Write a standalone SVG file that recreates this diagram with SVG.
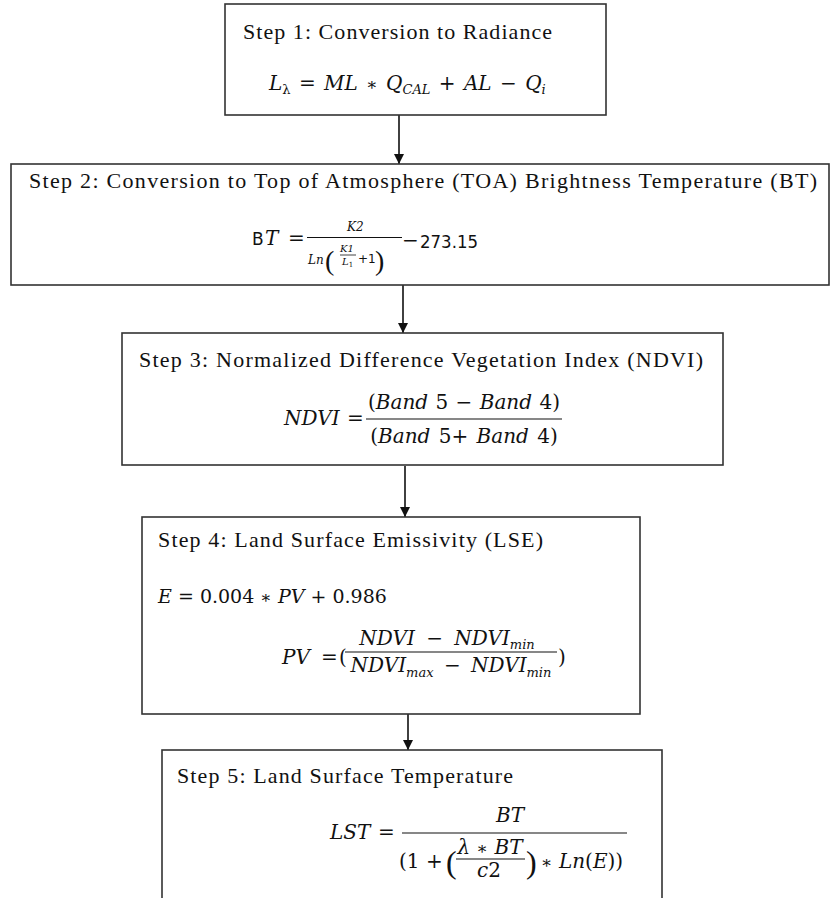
<svg xmlns="http://www.w3.org/2000/svg" width="830" height="898" viewBox="0 0 830 898">
<defs>
<marker id="ah" markerWidth="10" markerHeight="10" refX="10" refY="5" orient="auto" markerUnits="userSpaceOnUse" viewBox="0 0 10 10">
<path d="M0,0 L10,5 L0,10 Z" fill="#111"/>
</marker>
<style>
.box{fill:#fff;stroke:#333;stroke-width:1.6}
.t{font-family:"Liberation Serif","Times New Roman",serif;font-size:22px;fill:#111}
.m{font-family:"DejaVu Serif","Liberation Serif",serif;font-size:20px;fill:#111;font-style:italic}
.u{font-style:normal}
.sub{font-size:13px}
.ast{font-size:17px;font-style:normal}
.s{font-family:"DejaVu Sans","Liberation Sans",sans-serif;font-size:17px;fill:#111}
.c{stroke:#111;stroke-width:1.6;fill:none}
.bar{stroke:#111;stroke-width:1.2}
</style>
</defs>
<rect width="830" height="898" fill="#fff"/>
<g id="connectors">
<line class="c" x1="399" y1="115" x2="399" y2="164" marker-end="url(#ah)"/>
<line class="c" x1="403" y1="285" x2="403" y2="333" marker-end="url(#ah)"/>
<line class="c" x1="405" y1="466" x2="405" y2="517" marker-end="url(#ah)"/>
<line class="c" x1="408" y1="714" x2="408" y2="750" marker-end="url(#ah)"/>
</g>
<g id="step1">
<rect class="box" x="225" y="4" width="381" height="111"/>
<text class="t" x="243" y="39" textLength="309" lengthAdjust="spacing">Step 1: Conversion  to Radiance</text>
<text class="m" x="269" y="90" style="word-spacing:2px">L<tspan class="sub u" dy="4">λ</tspan><tspan class="u" dy="-4"> = </tspan>ML <tspan class="ast">∗</tspan> Q<tspan class="sub" dy="4">CAL</tspan><tspan class="u" dy="-4"> + </tspan>AL <tspan class="u">−</tspan> Q<tspan class="sub" dy="4">i</tspan></text>
</g>
<g id="step2">
<rect class="box" x="11" y="164" width="818" height="121"/>
<text class="t" x="29" y="188" textLength="788" lengthAdjust="spacing">Step 2: Conversion  to Top of Atmosphere  (TOA) Brightness  Temperature  (BT)</text>
<text class="s" x="252" y="245">B</text>
<text class="m" x="265" y="245">T</text>
<text class="m u" x="288" y="245">=</text>
<text class="m" x="347" y="231" style="font-size:12px">K2</text>
<line class="bar" x1="307" y1="237.5" x2="402" y2="237.5"/>
<text class="m" x="308" y="264" style="font-size:12px">Ln</text>
<text class="m u" x="325" y="270" style="font-size:28px;font-family:'Liberation Serif',serif">(</text>
<text class="m" x="340" y="252" style="font-size:10px">K1</text>
<line class="bar" x1="340" y1="255" x2="356" y2="255" style="stroke-width:0.8"/>
<text class="m" x="342" y="265" style="font-size:10px">L<tspan class="u" style="font-size:7px" dy="2">1</tspan></text>
<text class="s" x="358" y="263" style="font-size:12px">+1</text>
<text class="m u" x="375" y="270" style="font-size:28px;font-family:'Liberation Serif',serif">)</text>
<text class="m u" x="402" y="247">−</text>
<text class="s" x="420" y="248" textLength="58" lengthAdjust="spacingAndGlyphs">273.15</text>
</g>
<g id="step3">
<rect class="box" x="122" y="333" width="601" height="132"/>
<text class="t" x="139" y="367" textLength="564" lengthAdjust="spacing">Step 3: Normalized  Difference  Vegetation  Index (NDVI)</text>
<text class="m" x="284" y="425">NDVI</text>
<text class="m u" x="347" y="425">=</text>
<text class="m" x="464" y="409" text-anchor="middle" style="word-spacing:1px"><tspan class="u">(</tspan>Band <tspan class="u">5 − </tspan>Band <tspan class="u">4)</tspan></text>
<line class="bar" x1="366" y1="419" x2="562" y2="419"/>
<text class="m" x="464" y="443" text-anchor="middle" style="word-spacing:2px"><tspan class="u">(</tspan>Band <tspan class="u">5+  </tspan>Band <tspan class="u">4)</tspan></text>
</g>
<g id="step4">
<rect class="box" x="142" y="517" width="498" height="197"/>
<text class="t" x="158" y="547" textLength="385" lengthAdjust="spacing">Step 4: Land Surface  Emissivity  (LSE)</text>
<text class="m" x="158" y="603" style="font-size:19px">E <tspan class="u">= 0.004 </tspan><tspan class="ast">∗</tspan> PV <tspan class="u">+ 0.986</tspan></text>
<text class="m" x="282" y="664">PV</text>
<text class="m u" x="321" y="664">=</text>
<text class="m u" x="339" y="664">(</text>
<text class="m" x="447" y="645" text-anchor="middle" style="word-spacing:5px">NDVI <tspan class="u">−</tspan> NDVI<tspan class="sub" dy="4">min</tspan></text>
<line class="bar" x1="345" y1="652" x2="557" y2="652"/>
<text class="m" x="451" y="672" text-anchor="middle" style="word-spacing:4px">NDVI<tspan class="sub" dy="5">max</tspan><tspan class="u" dy="-5"> − </tspan>NDVI<tspan class="sub" dy="5">min</tspan></text>
<text class="m u" x="558" y="664">)</text>
</g>
<g id="step5">
<rect class="box" x="162" y="750" width="500" height="160"/>
<text class="t" x="177" y="783" textLength="336" lengthAdjust="spacing">Step 5: Land Surface  Temperature</text>
<text class="m" x="330" y="839">LST</text>
<text class="m u" x="378" y="839">=</text>
<text class="m" x="510" y="822" text-anchor="middle">BT</text>
<line class="bar" x1="402" y1="833" x2="627" y2="833"/>
<text class="m u" x="399" y="868">(1 +</text>
<text class="m u" x="446" y="873" style="font-size:32px;font-family:'Liberation Serif',serif">(</text>
<text class="m" x="490" y="854" text-anchor="middle">λ <tspan class="ast">∗</tspan> BT</text>
<line class="bar" x1="456" y1="859" x2="525" y2="859"/>
<text class="m" x="489" y="877" text-anchor="middle">c<tspan class="u">2</tspan></text>
<text class="m u" x="526" y="873" style="font-size:32px;font-family:'Liberation Serif',serif">)</text>
<text class="m" x="541" y="868"><tspan class="ast">∗</tspan> Ln<tspan class="u">(</tspan>E<tspan class="u">))</tspan></text>
</g>
</svg>
